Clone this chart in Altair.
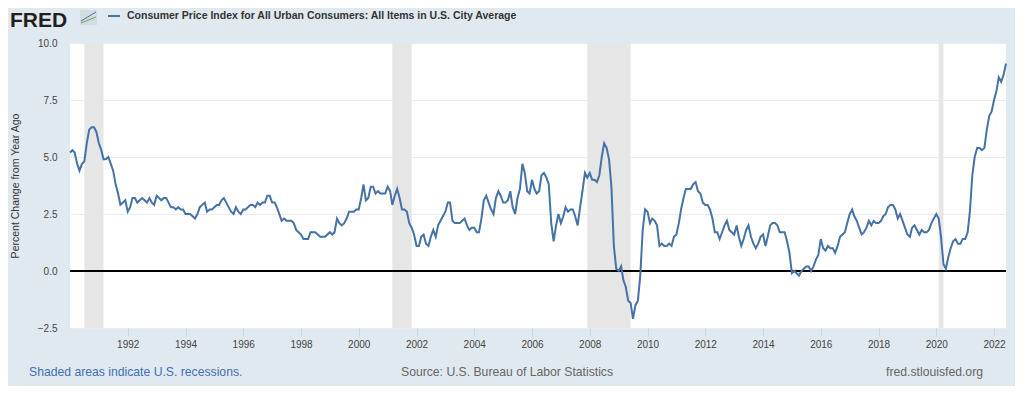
import altair as alt
import pandas as pd

# Monthly CPI-U, percent change from year ago, Jan 1990 .. Jun 2022
cpi_1990s = [
    5.2, 5.3, 5.2, 4.7, 4.4, 4.7, 4.8, 5.6, 6.2, 6.3, 6.3, 6.1,
    5.6, 5.3, 4.9, 4.9, 5.0, 4.7, 4.4, 3.8, 3.4, 2.9, 3.0, 3.1,
    2.6, 2.8, 3.2, 3.2, 3.0, 3.1, 3.2, 3.1, 3.0, 3.2, 3.0, 2.9,
    3.3, 3.2, 3.1, 3.2, 3.2, 3.0, 2.8, 2.8, 2.7, 2.8, 2.7, 2.7,
    2.5, 2.5, 2.5, 2.4, 2.3, 2.5, 2.8, 2.9, 3.0, 2.6, 2.7, 2.7,
    2.8, 2.9, 2.9, 3.1, 3.2, 3.0, 2.8, 2.6, 2.5, 2.8, 2.6, 2.5,
    2.7, 2.7, 2.8, 2.9, 2.9, 2.8, 3.0, 2.9, 3.0, 3.0, 3.3, 3.3,
    3.0, 3.0, 2.8, 2.5, 2.2, 2.3, 2.2, 2.2, 2.2, 2.1, 1.8, 1.7,
    1.6, 1.4, 1.4, 1.4, 1.7, 1.7, 1.7, 1.6, 1.5, 1.5, 1.5, 1.6,
    1.7, 1.6, 1.7, 2.3, 2.1, 2.0, 2.1, 2.3, 2.6, 2.6, 2.6, 2.7,
]
cpi_2000s = [
    2.7, 3.2, 3.8, 3.1, 3.2, 3.7, 3.7, 3.4, 3.5, 3.4, 3.4, 3.4,
    3.7, 3.5, 2.9, 3.3, 3.6, 3.2, 2.7, 2.7, 2.6, 2.1, 1.9, 1.6,
    1.1, 1.1, 1.5, 1.6, 1.2, 1.1, 1.5, 1.8, 1.5, 2.0, 2.2, 2.4,
    2.6, 3.0, 3.0, 2.2, 2.1, 2.1, 2.1, 2.2, 2.3, 2.0, 1.8, 1.9,
    1.9, 1.7, 1.7, 2.3, 3.1, 3.3, 3.0, 2.7, 2.5, 3.2, 3.5, 3.3,
    3.0, 3.0, 3.1, 3.5, 2.8, 2.5, 3.2, 3.6, 4.7, 4.3, 3.5, 3.4,
    4.0, 3.6, 3.4, 3.5, 4.2, 4.3, 4.1, 3.8, 2.1, 1.3, 2.0, 2.5,
    2.1, 2.4, 2.8, 2.6, 2.7, 2.7, 2.4, 2.0, 2.8, 3.5, 4.3, 4.1,
    4.3, 4.0, 4.0, 3.9, 4.2, 5.0, 5.6, 5.4, 4.9, 3.7, 1.1, 0.1,
    0.0, 0.2, -0.4, -0.7, -1.3, -1.4, -2.1, -1.5, -1.3, -0.2, 1.8, 2.7,
]
cpi_2010s = [
    2.6, 2.1, 2.3, 2.2, 2.0, 1.1, 1.2, 1.1, 1.1, 1.2, 1.1, 1.5,
    1.6, 2.1, 2.7, 3.2, 3.6, 3.6, 3.6, 3.8, 3.9, 3.5, 3.4, 3.0,
    2.9, 2.9, 2.7, 2.3, 1.7, 1.7, 1.4, 1.7, 2.0, 2.2, 1.8, 1.7,
    1.6, 2.0, 1.5, 1.1, 1.4, 1.8, 2.0, 1.5, 1.2, 1.0, 1.2, 1.5,
    1.6, 1.1, 1.5, 2.0, 2.1, 2.1, 2.0, 1.7, 1.7, 1.7, 1.3, 0.8,
    -0.1, 0.0, -0.1, -0.2, 0.0, 0.1, 0.2, 0.2, 0.0, 0.2, 0.5, 0.7,
    1.4, 1.0, 0.9, 1.1, 1.0, 1.0, 0.8, 1.1, 1.5, 1.6, 1.7, 2.1,
    2.5, 2.7, 2.4, 2.2, 1.9, 1.6, 1.7, 1.9, 2.2, 2.0, 2.2, 2.1,
    2.1, 2.2, 2.4, 2.5, 2.8, 2.9, 2.9, 2.7, 2.3, 2.5, 2.2, 1.9,
    1.6, 1.5, 1.9, 2.0, 1.8, 1.6, 1.8, 1.7, 1.7, 1.8, 2.1, 2.3,
]
cpi_2020s = [
    2.5, 2.3, 1.5, 0.3, 0.1, 0.6, 1.0, 1.3, 1.4, 1.2, 1.2, 1.4,
    1.4, 1.7, 2.6, 4.2, 5.0, 5.4, 5.4, 5.3, 5.4, 6.2, 6.8, 7.0,
    7.5, 7.9, 8.5, 8.3, 8.6, 9.1,
]
values = cpi_1990s + cpi_2000s + cpi_2010s + cpi_2020s
dates = pd.date_range("1990-01-01", periods=len(values), freq="MS").strftime("%Y-%m-%d")
series = pd.DataFrame({"date": dates, "value": values})

rec_start = ["1990-07-01", "2001-03-01", "2007-12-01", "2020-02-01"]
rec_end = ["1991-03-01", "2001-11-01", "2009-06-01", "2020-04-01"]
recessions = pd.DataFrame({"start": rec_start, "end": rec_end})

y_ticks = [-2.5, 0.0, 2.5, 5.0, 7.5, 10.0]
x_tick_years = list(range(1992, 2023, 2))

title_text = "Consumer Price Index for All Urban Consumers: All Items in U.S. City Average"
y_title = "Percent Change from Year Ago"
note_left = "Shaded areas indicate U.S. recessions."
note_mid = "Source: U.S. Bureau of Labor Statistics"
note_right = "fred.stlouisfed.org"

W, H = 936, 285
FONT = "Liberation Sans"

xscale = alt.Scale(domain=["1990-01-01", "2022-06-01"])
yscale = alt.Scale(domain=[-2.5, 10], nice=False, zero=False)

rec = alt.Chart(recessions).mark_rect(color="#e6e6e6").encode(
    x=alt.X("start:T", scale=xscale),
    x2="end:T",
    y=alt.value(0),
    y2=alt.value(H),
)

zero = alt.Chart(pd.DataFrame({"z": [0]})).mark_rule(color="#000000", strokeWidth=2).encode(
    y=alt.Y("z:Q", scale=yscale)
)

line = alt.Chart(series).mark_line(color="#4572a7", strokeWidth=2).encode(
    x=alt.X(
        "date:T",
        scale=xscale,
        axis=alt.Axis(
            title=None,
            values=[alt.DateTime(year=y, month=1, date=1) for y in x_tick_years],
            format="%Y",
            grid=False,
            domain=False,
            tickColor="#c9d6e4",
            tickSize=8,
            labelPadding=3,
            labelFontSize=10,
            labelColor="#444444",
            labelFont=FONT,
        ),
    ),
    y=alt.Y(
        "value:Q",
        scale=yscale,
        axis=alt.Axis(
            title=None,
            values=y_ticks,
            format=".1f",
            grid=True,
            gridColor="#ebebeb",
            domain=False,
            ticks=False,
            labelPadding=13,
            labelFontSize=10,
            labelColor="#444444",
            labelFont=FONT,
        ),
    ),
)

one = pd.DataFrame({"k": [0]})


def txt(text, x, y, **kw):
    return alt.Chart(one).mark_text(text=text, font=FONT, **kw).encode(
        x=alt.value(x), y=alt.value(y)
    )


fred = txt("FRED", -60, -16, fontSize=21, fontWeight="bold", color="#231f20",
           align="left", baseline="alphabetic")
icon_bg = alt.Chart(one).mark_rect(color="#d3dbe3").encode(
    x=alt.value(10), x2=alt.value(27), y=alt.value(-33), y2=alt.value(-18)
)
icon_l1 = alt.Chart(one).mark_rule(color="#4572a7", strokeWidth=1).encode(
    x=alt.value(11), x2=alt.value(26), y=alt.value(-22), y2=alt.value(-31)
)
icon_l2 = alt.Chart(one).mark_rule(color="#6aa84f", strokeWidth=1).encode(
    x=alt.value(11), x2=alt.value(26), y=alt.value(-20), y2=alt.value(-26)
)
legend_line = alt.Chart(one).mark_rule(color="#4572a7", strokeWidth=2).encode(
    x=alt.value(38), x2=alt.value(50), y=alt.value(-27)
)
legend_txt = txt(title_text, 57, -27, fontSize=10.5, fontWeight="bold", color="#333333",
                 align="left", baseline="middle")
ytitle = txt(y_title, -54, 143, fontSize=10.5, color="#333333", angle=270,
             align="center", baseline="middle")
foot_l = txt(note_left, -41, 329, fontSize=12.2, color="#3f6fb5", align="left", baseline="middle")
foot_m = txt(note_mid, 331, 329, fontSize=12.2, color="#666666", align="left", baseline="middle")
foot_r = txt(note_right, 913, 329, fontSize=12.2, color="#666666", align="right", baseline="middle")

chart = alt.layer(
    rec, zero, line, fred, icon_bg, icon_l1, icon_l2, legend_line, legend_txt,
    ytitle, foot_l, foot_m, foot_r,
).properties(
    width=W,
    height=H,
    autosize="none",
    padding={"left": 62, "top": 35, "right": 9, "bottom": 58},
    background="#e1e9f0",
).configure_view(fill="white", strokeWidth=0)

chart.save("out.html", embed_options={"renderer": "svg", "actions": False})
